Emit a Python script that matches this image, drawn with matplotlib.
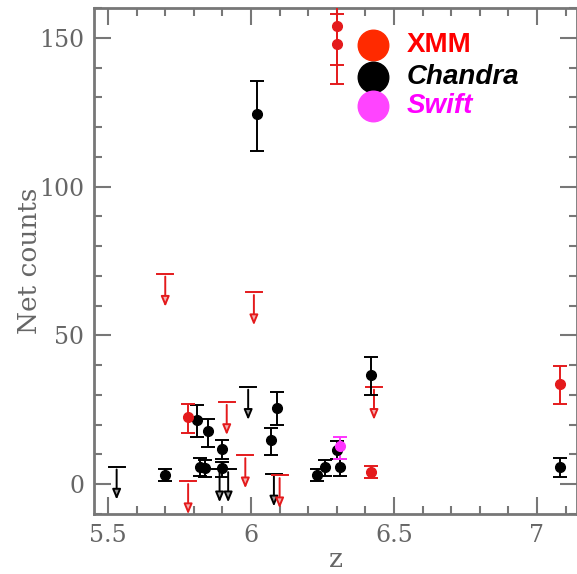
import matplotlib.pyplot as plt
from matplotlib.ticker import MultipleLocator

# detections: z, counts, lower err, upper err
xmm_z = [5.78, 6.30, 6.30, 6.42, 7.08]
xmm_c = [22.6, 154, 148, 4.1, 33.8]
xmm_lo = [5.5, 13, 13.5, 2.0, 6.7]
xmm_hi = [4.5, 10, 10, 2.0, 5.8]

chandra_z = [5.70, 5.81, 5.85, 5.82, 5.84, 5.90, 5.90, 6.02, 6.07, 6.09,
             6.23, 6.26, 6.30, 6.31, 6.42, 7.08]
chandra_c = [3.0, 21.5, 17.8, 5.8, 5.3, 12.0, 5.4, 124.5, 14.8, 25.6,
             3.0, 5.8, 11.4, 5.8, 36.8, 5.8]
chandra_lo = [2.0, 5.5, 5.4, 3.0, 3.0, 3.5, 3.0, 12.5, 5.1, 5.8,
              2.0, 3.0, 3.0, 3.1, 6.9, 3.3]
chandra_hi = [2.0, 5.0, 4.2, 3.0, 3.0, 3.0, 2.1, 11.1, 4.0, 5.3,
              2.0, 2.5, 3.0, 2.6, 5.9, 2.9]

swift_z = [6.31]
swift_c = [12.8]
swift_lo = [4.2]
swift_hi = [3.1]

# upper limits
xmm_ul_z = [5.70, 5.78, 5.915, 5.98, 6.01, 6.10, 6.43]
xmm_ul_c = [70.7, 1.0, 27.6, 9.7, 64.5, 3.0, 32.7]
chandra_ul_z = [5.53, 5.89, 5.92, 5.99, 6.08]
chandra_ul_c = [5.9, 5.0, 5.0, 32.7, 3.6]

red = '#e41a1c'
fig = plt.figure(figsize=(5.77, 5.74), dpi=100)
ax = fig.add_axes([0.163, 0.1045, 0.837, 0.8815])

def det(z, c, lo, hi, col):
    ax.errorbar(z, c, yerr=[lo, hi], fmt='o', color=col, ms=7, elinewidth=1.4,
                capsize=5, capthick=1.4, zorder=3)

def ulim(z, c, col):
    for zz, cc in zip(z, c):
        ax.plot([zz - 0.028, zz + 0.028], [cc, cc], color=col, lw=1.4, zorder=3)
        ax.annotate('', xy=(zz, cc - 12), xytext=(zz, cc), annotation_clip=False,
                    arrowprops=dict(arrowstyle='-|>,head_width=0.25,head_length=0.6',
                                    color=col, lw=1.4, fc='#f4b0b0' if col == red else '#999999'),
                    zorder=3)

ulim(chandra_ul_z, chandra_ul_c, 'black')
ulim(xmm_ul_z, xmm_ul_c, red)
det(chandra_z, chandra_c, chandra_lo, chandra_hi, 'black')
det(xmm_z, xmm_c, xmm_lo, xmm_hi, red)
det(swift_z, swift_c, swift_lo, swift_hi, '#ff33ff')

ax.set_xlim(5.451, 7.14)
ax.set_ylim(-10, 160)
ax.xaxis.set_minor_locator(MultipleLocator(0.1))
ax.yaxis.set_major_locator(MultipleLocator(50))
ax.yaxis.set_minor_locator(MultipleLocator(10))
ax.set_xticks([5.5, 6, 6.5, 7])
ax.set_xticklabels(['5.5', '6', '6.5', '7'])
gray = '#777777'
ax.tick_params(which='both', direction='in', top=True, right=True, colors=gray,
               labelcolor='#666666', labelsize=17, width=1.5)
ax.tick_params(which='major', length=12, pad=7)
ax.tick_params(which='minor', length=6)
for lab in ax.get_xticklabels() + ax.get_yticklabels():
    lab.set_family('DejaVu Serif')
for s in ax.spines.values():
    s.set_color(gray)
    s.set_linewidth(2)
ax.set_xlabel('z', family='DejaVu Serif', fontsize=19, color='#666666', labelpad=0)
ax.set_ylabel('Net counts', family='DejaVu Serif', fontsize=19, color='#666666', labelpad=-2)

# legend drawn as big dots with text
leg = [('XMM', '#ff2a00', '#ff0000', 'normal'),
       ('Chandra', 'black', 'black', 'italic'),
       ('Swift', '#ff44ff', '#ff00ff', 'italic')]
leg_y = [0.927, 0.864, 0.806]
for (name, dot, tc, st), yy in zip(leg, leg_y):
    ax.plot(0.578, yy, 'o', ms=22, color=dot, transform=ax.transAxes, clip_on=False)
    ax.text(0.648, yy, name, color=tc, fontsize=20, fontweight='bold', style=st,
            family='Liberation Sans', va='center', transform=ax.transAxes)

fig.savefig('out.png', dpi=100)
